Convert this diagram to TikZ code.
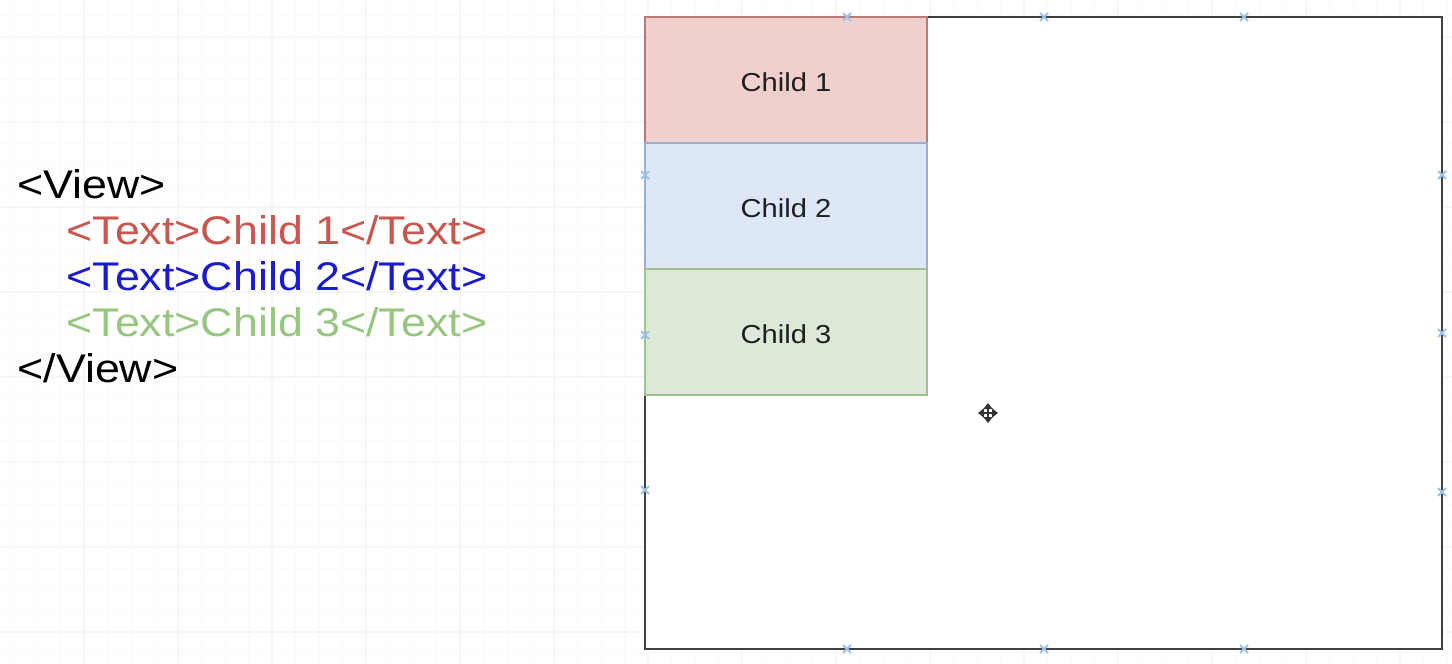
\documentclass[tikz,border=0pt]{standalone}
\usepackage{fontspec}
\setmainfont{Liberation Sans}[FakeStretch=1.12]
\usetikzlibrary{positioning}
\usetikzlibrary{arrows.meta}
\definecolor{tagred}{HTML}{C9574F}
\definecolor{tagblue}{HTML}{1A1AD0}
\definecolor{taggreen}{HTML}{98C681}
\definecolor{redfill}{HTML}{F0D0CD}
\definecolor{redline}{HTML}{B77A76}
\definecolor{bluefill}{HTML}{DEE7F8}
\definecolor{blueline}{HTML}{98AED6}
\definecolor{greenfill}{HTML}{DCE8D8}
\definecolor{greenline}{HTML}{9EC28E}
\definecolor{framegray}{HTML}{404040}
\definecolor{pinblue}{HTML}{9DC2E6}
\newcommand{\pin}[2] % x in px, y in px
{
	% small blue cross on the frame
	\draw[pinblue, line width=0.9pt] (#1-4,#2-4) -- (#1+4,#2+4);
	\draw[pinblue, line width=0.9pt] (#1-4,#2+4) -- (#1+4,#2-4);
}

\begin{document}
\begin{tikzpicture}[x=0.5pt, y=-0.5pt,
	gridminor/.style={gray!4, line width=0.5pt},
	gridmajor/.style={gray!7, line width=0.6pt},
	code/.style={anchor=base west, inner sep=0pt, font=\fontsize{20}{24}\selectfont},
	child/.style={draw, line width=0.6pt, minimum width=141pt, minimum height=63pt,
		inner sep=0pt, outer sep=0pt, text height=11.3pt, text depth=0pt, text=black!88,
		font=\fontsize{13}{15}\selectfont}]
	% 1452px x 664px, 1px = 0.5pt
	\useasboundingbox (0,0) rectangle (1452,664);
	\fill[white] (0,0) rectangle (1452,664);
	
	% background grid
	\foreach \k in {0,...,61}
		\draw[gridminor] (13.5+23.5*\k,0) -- (13.5+23.5*\k,664);
	\foreach \k in {0,...,31}
		\draw[gridminor] (0,15.75+21.25*\k) -- (1452,15.75+21.25*\k);
	\foreach \k in {0,...,15}
		\draw[gridmajor] (84+94*\k,0) -- (84+94*\k,664);
	\foreach \k in {0,...,7}
		\draw[gridmajor] (0,37+85*\k) -- (1452,37+85*\k);
	
	% code
	\node[code] (viewopen) at (17,198) {<View>};
	\node[code, text=tagred] (text1) at (66,244) {<Text>Child 1</Text>};
	\node[code, text=tagblue] (text2) at (66,290) {<Text>Child 2</Text>};
	\node[code, text=taggreen] (text3) at (66,336) {<Text>Child 3</Text>};
	\node[code] (viewclose) at (17,382) {</View>};
	
	% view with its children
	\node[draw=framegray, fill=white, line width=1.2pt, minimum width=398.5pt, minimum height=316pt,
		inner sep=0pt, outer sep=0pt, anchor=north west] (view) at (645,17) {};
	\node[child, fill=redfill, draw=redline, anchor=north west] (child1) at (view.north west) {Child 1};
	\node[child, fill=bluefill, draw=blueline, below=0pt of child1] (child2) {Child 2};
	\node[child, fill=greenfill, draw=greenline, below=0pt of child2] (child3) {Child 3};
	
	\pin{847}{17};
	\pin{1044}{17};
	\pin{1244}{17};
	\pin{847}{649};
	\pin{1044}{649};
	\pin{1244}{649};
	\pin{645}{175};
	\pin{645}{335};
	\pin{645}{490};
	\pin{1442}{175};
	\pin{1442}{333};
	\pin{1442}{492};
	
	% move cursor
	\draw[black!80, line width=1.3pt, {Triangle[length=3pt,width=4.5pt]}-{Triangle[length=3pt,width=4.5pt]}] (978,413) -- (998,413);
	\draw[black!80, line width=1.3pt, {Triangle[length=3pt,width=4.5pt]}-{Triangle[length=3pt,width=4.5pt]}] (988,403) -- (988,423);
\end{tikzpicture}
\end{document}
